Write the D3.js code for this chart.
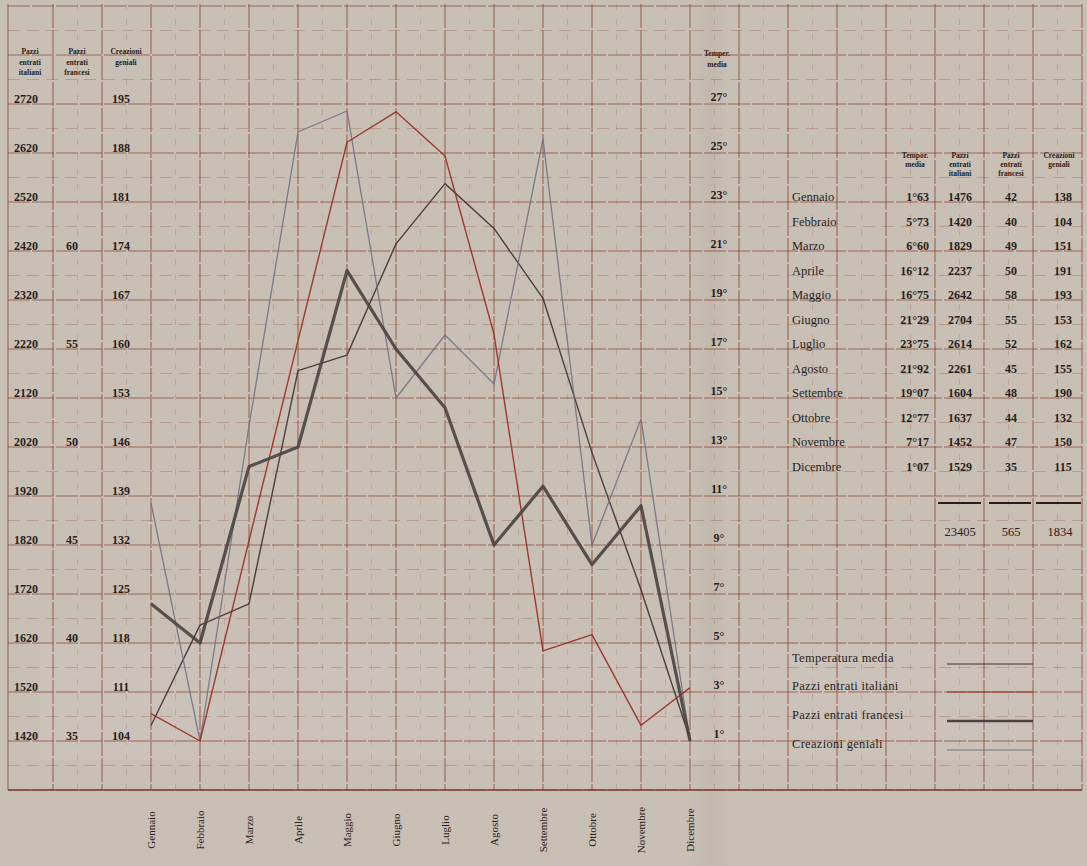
<!DOCTYPE html>
<html lang="it">
<head>
    <meta charset="UTF-8">
    <title>Pazzi entrati e creazioni geniali per mese</title>
    <script src="https://cdnjs.cloudflare.com/ajax/libs/d3/7.8.5/d3.min.js"></script>
    <style>
        body {
            margin: 0;
            padding: 0;
            background-color: #c8bfb5;
        }
        svg text {
            font-family: "Liberation Serif", "DejaVu Serif", serif;
            fill: #2a1e1a;
        }
        .num {
            font-weight: bold;
            font-size: 12px;
        }
        .head {
            font-weight: bold;
            font-size: 7.5px;
        }
        .row {
            font-size: 12.5px;
        }
        .legend {
            font-size: 12.5px;
            letter-spacing: 0.3px;
        }
        .month {
            font-size: 11px;
        }
    </style>
</head>
<body>
    <div id="chart"></div>

    <script>
        // dati
        const months = ["Gennaio", "Febbraio", "Marzo", "Aprile", "Maggio", "Giugno",
            "Luglio", "Agosto", "Settembre", "Ottobre", "Novembre", "Dicembre"];
        const tempMedia = [1.63, 5.73, 6.60, 16.12, 16.75, 21.29, 23.75, 21.92, 19.07, 12.77, 7.17, 1.07];
        const pazziItaliani = [1476, 1420, 1829, 2237, 2642, 2704, 2614, 2250, 1604, 1637, 1452, 1529];
        const pazziFrancesi = [42, 40, 49, 50, 59, 55, 52, 45, 48, 44, 47, 35];
        const creazioniGeniali = [138, 104, 149, 191, 194, 153, 162, 155, 190, 132, 150, 104];

        // scale sul lato sinistro e destro
        const italianiTicks = [2720, 2620, 2520, 2420, 2320, 2220, 2120, 2020, 1920, 1820, 1720, 1620, 1520, 1420];
        const francesiTicks = [60, 55, 50, 45, 40, 35];
        const creazioniTicks = [195, 188, 181, 174, 167, 160, 153, 146, 139, 132, 125, 118, 111, 104];
        const tempTicks = [27, 25, 23, 21, 19, 17, 15, 13, 11, 9, 7, 5, 3, 1];

        // tabella a destra
        const tabTemp = ["1°63", "5°73", "6°60", "16°12", "16°75", "21°29", "23°75", "21°92", "19°07", "12°77", "7°17", "1°07"];
        const tabItaliani = ["1476", "1420", "1829", "2237", "2642", "2704", "2614", "2261", "1604", "1637", "1452", "1529"];
        const tabFrancesi = ["42", "40", "49", "50", "58", "55", "52", "45", "48", "44", "47", "35"];
        const tabCreazioni = ["138", "104", "151", "191", "193", "153", "162", "155", "190", "132", "150", "115"];
        const tabTotali = ["23405", "565", "1834"];

        const legendLabels = ["Temperatura media", "Pazzi entrati italiani", "Pazzi entrati francesi", "Creazioni geniali"];

        const width = 1087, height = 866;

        const svg = d3.select("#chart").append("svg")
            .attr("width", width)
            .attr("height", height);

        // scale
        const x = d3.scaleLinear().domain([0, 11]).range([151, 690]);
        const yIt = d3.scaleLinear().domain([1420, 2720]).range([741, 104]);
        const yFr = d3.scaleLinear().domain([35, 60]).range([741, yIt(2420)]);
        const yCr = d3.scaleLinear().domain([104, 195]).range([741, 104]);
        const yT = d3.scaleLinear().domain([1, 27]).range([741, 104]);

        // carta
        svg.append("rect").attr("width", width).attr("height", height).attr("fill", "#c8bfb5");
        const defs = svg.append("defs");
        const fold = defs.append("linearGradient").attr("id", "fold");
        fold.append("stop").attr("offset", "0%").attr("stop-color", "#5a4030").attr("stop-opacity", 0);
        fold.append("stop").attr("offset", "50%").attr("stop-color", "#5a4030").attr("stop-opacity", 0.05);
        fold.append("stop").attr("offset", "100%").attr("stop-color", "#5a4030").attr("stop-opacity", 0);
        svg.append("rect").attr("x", 690).attr("y", 0).attr("width", 40).attr("height", height).attr("fill", "url(#fold)");
        svg.append("rect").attr("x", 40).attr("y", 645).attr("width", width - 40).attr("height", 115)
            .attr("fill", "#fff").attr("opacity", 0.07);

        // griglia
        const grid = svg.append("g");
        const gTop = 4, gBottom = yIt(1320), gLeft = 8, gRight = x(19);
        const hVals = d3.range(1320, 2921, 50);
        grid.selectAll(".h").data(hVals).enter().append("line")
            .attr("x1", gLeft).attr("x2", gRight)
            .attr("y1", d => yIt(d)).attr("y2", d => yIt(d))
            .attr("stroke", "#8c3f30")
            .attr("stroke-width", d => (d % 100 === 20) ? 1.1 : 0.7)
            .attr("stroke-opacity", d => (d % 100 === 20) ? 0.7 : 0.4)
            .attr("stroke-dasharray", d => (d % 100 === 20) ? "22,2" : "12,7");
        const vIdx = d3.range(-2, 19.01, 0.5);
        grid.selectAll(".v").data(vIdx).enter().append("line")
            .attr("x1", d => x(d)).attr("x2", d => x(d))
            .attr("y1", gTop).attr("y2", gBottom)
            .attr("stroke", "#8c3f30")
            .attr("stroke-width", d => Number.isInteger(d) ? 1.1 : 0.6)
            .attr("stroke-opacity", d => Number.isInteger(d) ? 0.7 : 0.3)
            .attr("stroke-dasharray", d => Number.isInteger(d) ? "24,2" : "6,9");
        grid.append("line").attr("x1", gLeft).attr("x2", gLeft).attr("y1", gTop).attr("y2", gBottom)
            .attr("stroke", "#8c3f30").attr("stroke-width", 1.1).attr("stroke-opacity", 0.7);
        grid.append("line").attr("x1", gLeft).attr("x2", gRight).attr("y1", gBottom).attr("y2", gBottom)
            .attr("stroke", "#7a3528").attr("stroke-width", 1.4).attr("stroke-opacity", 0.9);

        // intestazioni colonne a sinistra
        const heads = [
            {x: 30, lines: ["Pazzi", "entrati", "italiani"]},
            {x: 77, lines: ["Pazzi", "entrati", "francesi"]},
            {x: 126, lines: ["Creazioni", "geniali"]}
        ];
        heads.forEach(h => {
            h.lines.forEach((t, i) => {
                svg.append("text").attr("class", "head")
                    .attr("x", h.x).attr("y", 54 + i * 10.5)
                    .attr("text-anchor", "middle").text(t);
            });
        });
        svg.append("text").attr("class", "head").attr("x", 717).attr("y", 56).attr("text-anchor", "middle").text("Temper.");
        svg.append("text").attr("class", "head").attr("x", 717).attr("y", 67).attr("text-anchor", "middle").text("media");

        // etichette assi
        svg.selectAll(".tIt").data(italianiTicks).enter().append("text")
            .attr("class", "num").attr("x", 26).attr("y", d => yIt(d) - 1)
            .attr("text-anchor", "middle").text(d => d);
        svg.selectAll(".tFr").data(francesiTicks).enter().append("text")
            .attr("class", "num").attr("x", 72).attr("y", d => yFr(d) - 1)
            .attr("text-anchor", "middle").text(d => d);
        svg.selectAll(".tCr").data(creazioniTicks).enter().append("text")
            .attr("class", "num").attr("x", 121).attr("y", d => yCr(d) - 1)
            .attr("text-anchor", "middle").text(d => d);
        svg.selectAll(".tT").data(tempTicks).enter().append("text")
            .attr("class", "num").attr("x", 719).attr("y", d => yT(d) - 3)
            .attr("text-anchor", "middle").text(d => d + "°");

        // mesi sull'asse x
        svg.selectAll(".month").data(months).enter().append("text")
            .attr("class", "month")
            .attr("transform", (d, i) => `translate(${x(i) + 4},830) rotate(-90)`)
            .attr("text-anchor", "middle")
            .text(d => d);

        // linee
        const series = [
            {vals: tempMedia, y: yT, color: "#3e3230", w: 1.4},
            {vals: creazioniGeniali, y: yCr, color: "#727482", w: 1.3},
            {vals: pazziItaliani, y: yIt, color: "#9a2a24", w: 1.4},
            {vals: pazziFrancesi, y: yFr, color: "#4a4340", w: 3.2}
        ];
        series.forEach(s => {
            const line = d3.line().x((d, i) => x(i)).y(d => s.y(d));
            svg.append("path").datum(s.vals)
                .attr("d", line)
                .attr("fill", "none")
                .attr("stroke", s.color)
                .attr("stroke-width", s.w)
                .attr("stroke-linejoin", "round")
                .attr("stroke-opacity", 0.9);
        });

        // tabella
        const tab = svg.append("g");
        const colX = {temp: 929, it: 960, fr: 1011, cr: 1063};
        const tabHeads = [
            {x: 915, lines: ["Tempor.", "media"]},
            {x: colX.it, lines: ["Pazzi", "entrati", "italiani"]},
            {x: colX.fr, lines: ["Pazzi", "entrati", "francesi"]},
            {x: 1059, lines: ["Creazioni", "geniali"]}
        ];
        tabHeads.forEach(h => {
            h.lines.forEach((t, i) => {
                tab.append("text").attr("class", "head")
                    .attr("x", h.x).attr("y", 158 + i * 9)
                    .attr("text-anchor", "middle").text(t);
            });
        });
        const rowY = i => yT(23) - 1 + i * (yT(21) - yT(23)) / 2;
        months.forEach((m, i) => {
            tab.append("text").attr("class", "row").attr("x", 792).attr("y", rowY(i)).text(m);
            tab.append("text").attr("class", "num").attr("x", colX.temp).attr("y", rowY(i))
                .attr("text-anchor", "end").text(tabTemp[i]);
            tab.append("text").attr("class", "num").attr("x", colX.it).attr("y", rowY(i))
                .attr("text-anchor", "middle").text(tabItaliani[i]);
            tab.append("text").attr("class", "num").attr("x", colX.fr).attr("y", rowY(i))
                .attr("text-anchor", "middle").text(tabFrancesi[i]);
            tab.append("text").attr("class", "num").attr("x", colX.cr).attr("y", rowY(i))
                .attr("text-anchor", "middle").text(tabCreazioni[i]);
        });
        [[938, 981], [989, 1031], [1036, 1081]].forEach(seg => {
            tab.append("line").attr("x1", seg[0]).attr("x2", seg[1])
                .attr("y1", 503).attr("y2", 503)
                .attr("stroke", "#2a1e1a").attr("stroke-width", 2.2);
        });
        [colX.it, colX.fr, 1060].forEach((cx, i) => {
            tab.append("text").attr("class", "row").attr("x", cx).attr("y", 536)
                .attr("text-anchor", "middle").text(tabTotali[i]);
        });

        // legenda
        const legend = svg.append("g");
        const legY = [662, 690, 719, 748];
        const legStyle = [series[0], series[2], series[3], series[1]];
        legendLabels.forEach((t, i) => {
            legend.append("text").attr("class", "legend").attr("x", 792).attr("y", legY[i]).text(t);
            legend.append("line")
                .attr("x1", 947).attr("x2", 1033)
                .attr("y1", legY[i] + 2).attr("y2", legY[i] + 2)
                .attr("stroke", legStyle[i].color)
                .attr("stroke-width", legStyle[i].w * 0.8);
        });
    </script>
</body>
</html>
